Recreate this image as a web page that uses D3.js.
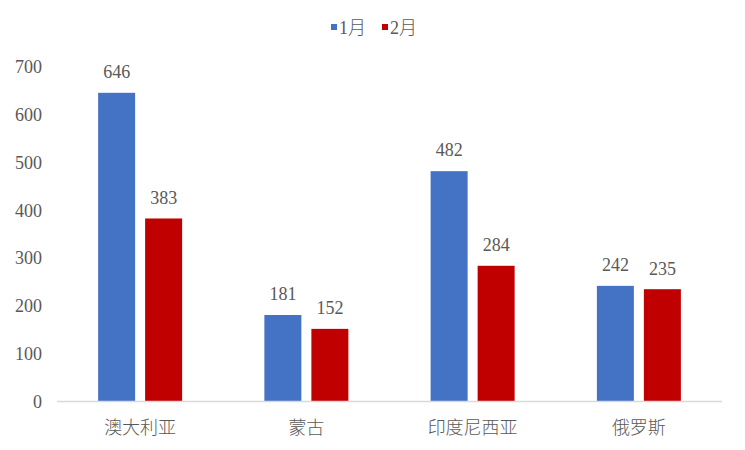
<!DOCTYPE html>
<html>
<head>
<meta charset="utf-8">
<script src="https://cdn.jsdelivr.net/npm/d3@7/dist/d3.min.js"></script>
<style>
  body { margin: 0; background: #fff; }
  text { fill: #595959; }
</style>
</head>
<body>
<svg id="chart" width="745" height="450"></svg>
<script>
// ─── Data ─────────────────────────────────────────────────────────────────────
const categories = ["澳大利亚", "蒙古", "印度尼西亚", "俄罗斯"];
const seriesNames = ["1月", "2月"];
const janValues = [646, 181, 482, 242];
const febValues = [383, 152, 284, 235];
const yTicks = [0, 100, 200, 300, 400, 500, 600, 700];

const colors = ["#4472C4", "#C00000"];
const series = [janValues, febValues];

const numFont = "'Liberation Serif', 'DejaVu Serif', serif";
const cjkFont = "'Noto Sans CJK SC', sans-serif";

// ─── Layout ───────────────────────────────────────────────────────────────────
const svg = d3.select("#chart");
const plotLeft = 57, plotRight = 722, plotTop = 67, plotBottom = 401.5;
const barW = 37, barGap = 10;

const x = d3.scaleBand().domain(categories).range([plotLeft, plotRight]);
const inner = d3.scaleBand().domain(seriesNames)
    .range([-(barW + barGap / 2), barW + barGap / 2]).paddingInner(barGap / (barW + barGap));
const y = d3.scaleLinear().domain([0, 700]).range([plotBottom, plotTop]);

// y tick labels (no axis line, no grid)
svg.append("g").selectAll("text").data(yTicks).join("text")
    .attr("x", 42).attr("y", d => y(d)).attr("dy", "0.35em")
    .attr("text-anchor", "end").attr("font-size", 18)
    .style("font-family", numFont)
    .text(d => d);

// bars + value labels
seriesNames.forEach((name, si) => {
    const g = svg.append("g");
    const xPos = c => x(c) + x.bandwidth() / 2 + inner(name);
    g.selectAll("rect").data(categories).join("rect")
        .attr("x", c => xPos(c))
        .attr("y", (c, i) => y(series[si][i]))
        .attr("width", inner.bandwidth())
        .attr("height", (c, i) => plotBottom - y(series[si][i]))
        .attr("fill", colors[si]);
    g.selectAll("text").data(categories).join("text")
        .attr("x", c => xPos(c) + inner.bandwidth() / 2)
        .attr("y", (c, i) => y(series[si][i]) - 21)
        .attr("dy", "0.35em")
        .attr("text-anchor", "middle").attr("font-size", 18)
        .style("font-family", numFont)
        .text((c, i) => series[si][i]);
});

// x axis line
svg.append("line")
    .attr("x1", plotLeft).attr("x2", plotRight)
    .attr("y1", plotBottom).attr("y2", plotBottom)
    .attr("stroke", "#D9D9D9").attr("stroke-width", 1.5);

// category labels
svg.append("g").selectAll("text").data(categories).join("text")
    .attr("x", c => x(c) + x.bandwidth() / 2)
    .attr("y", 428).attr("dy", "0.35em")
    .attr("text-anchor", "middle").attr("font-size", 18)
    .style("font-family", cjkFont).style("font-weight", 300)
    .text(c => c);

// legend
const legendX = [331, 382];
seriesNames.forEach((name, i) => {
    svg.append("rect").attr("x", legendX[i]).attr("y", 24).attr("width", 6).attr("height", 6).attr("fill", colors[i]);
    const t = svg.append("text").attr("x", legendX[i] + 8).attr("y", 28).attr("dy", "0.35em")
        .attr("font-size", 18).style("font-family", numFont);
    t.append("tspan").text(name.slice(0, -1));
    t.append("tspan").style("font-family", cjkFont).style("font-weight", 300).text(name.slice(-1));
});
</script>
</body>
</html>
